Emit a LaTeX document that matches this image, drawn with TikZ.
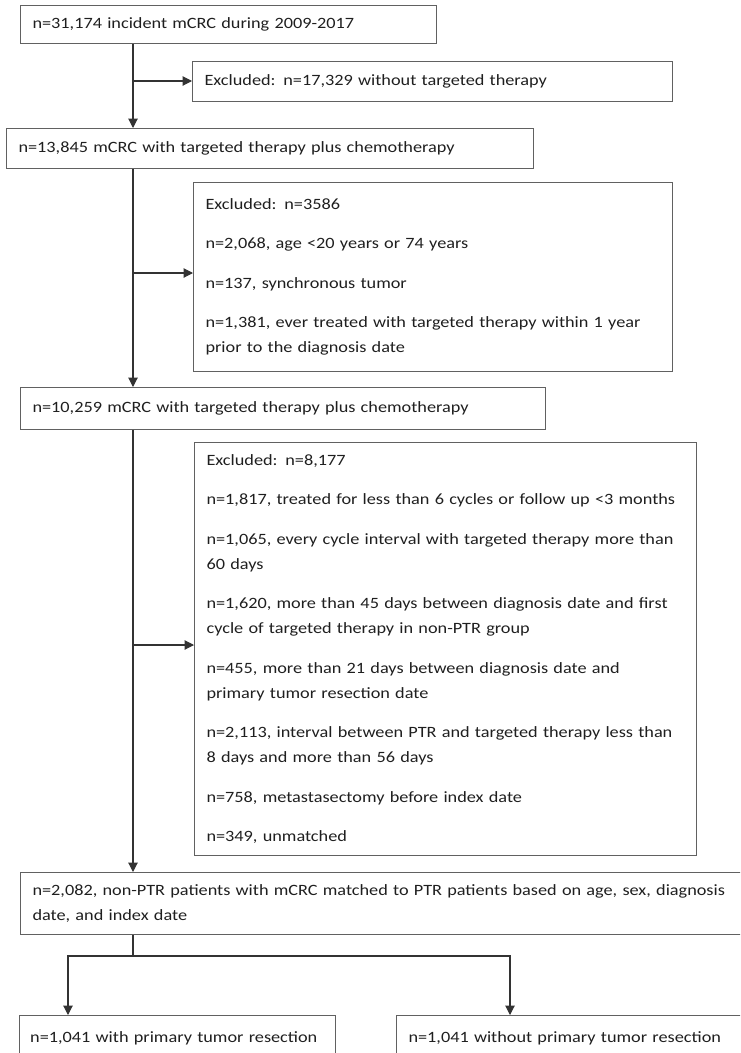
\documentclass[tikz,border=0pt]{standalone}
\usepackage{fontspec}
\setmainfont{Carlito}[FakeStretch=1.16]
\usetikzlibrary{arrows.meta}

\tikzset{
  box/.style={rectangle, draw=black!62, line width=0.8pt, anchor=north west,
    inner xsep=9pt, inner ysep=0pt, align=left, text=black!88,
    font=\fontsize{11.8pt}{18.75pt}\selectfont,
    execute at begin node={\hyphenpenalty=10000\exhyphenpenalty=10000}},
  arr/.style={draw=black!80, line width=0.8pt, -{Triangle[length=7pt,width=7pt]}},
  line/.style={draw=black!80, line width=0.8pt}
}
\newcommand{\gap}{\\[10.9pt]}

\begin{document}
\begin{tikzpicture}[x=0.75pt, y=-0.75pt]
  \useasboundingbox (0,0) rectangle (740,1053);
  \clip (0,0) rectangle (740,1053);

  %% main column
  \coordinate (Spine) at (133,0);
  \node (Incident) [box, text width=294pt, minimum height=28.5pt] at (20,5)
    {n=31,174 incident mCRC during 2009-2017};
  \node (Targeted) [box, text width=377.25pt, minimum height=30pt] at (6,128)
    {n=13,845 mCRC with targeted therapy plus chemotherapy};
  \node (Eligible) [box, text width=375.75pt, minimum height=31.5pt] at (20,387)
    {n=10,259 mCRC with targeted therapy plus chemotherapy};
  \node (Matched) [box, text width=537pt, minimum height=46.5pt] at (20,872)
    {n=2,082, non-PTR patients with mCRC matched to PTR patients based on age, sex, diagnosis\\
     date, and index date};
  \node (With) [box, inner xsep=8pt, text width=221pt, minimum height=34.5pt] at (19,1015)
    {n=1,041 with primary tumor resection};
  \node (Without) [box, text width=255pt, minimum height=34.5pt] at (396,1015)
    {n=1,041 without primary tumor resection};

  %% exclusion boxes
  \node (Excl1) [box, text width=342pt, minimum height=30pt] at (192,61)
    {Excluded: n=17,329 without targeted therapy};
  \node (Excl2) [box, text width=341.25pt, minimum height=141.75pt] at (193,182)
    {Excluded: n=3586\gap
     n=2,068, age <20 years or 74 years\gap
     n=137, synchronous tumor\gap
     n=1,381, ever treated with targeted therapy within 1 year\\
     prior to the diagnosis date};
  \node (Excl3) [box, text width=358.5pt, minimum height=309.75pt] at (194,442)
    {Excluded: n=8,177\gap
     n=1,817, treated for less than 6 cycles or follow up <3 months\gap
     n=1,065, every cycle interval with targeted therapy more than\\
     60 days\gap
     n=1,620, more than 45 days between diagnosis date and first\\
     cycle of targeted therapy in non-PTR group\gap
     n=455, more than 21 days between diagnosis date and\\
     primary tumor resection date\gap
     n=2,113, interval between PTR and targeted therapy less than\\
     8 days and more than 56 days\gap
     n=758, metastasectomy before index date\gap
     n=349, unmatched};

  %% connectors
  \coordinate (J1) at (133,81);
  \coordinate (J2) at (133,273);
  \coordinate (J3) at (133,645);
  \coordinate (ForkL) at (68,956);
  \coordinate (ForkR) at (510,956);

  \draw[arr] (Incident.south -| Spine) -- (Targeted.north -| Spine);
  \draw[arr] (Targeted.south -| Spine) -- (Eligible.north -| Spine);
  \draw[arr] (Eligible.south -| Spine) -- (Matched.north -| Spine);
  \draw[arr] (J1) -- (J1 -| Excl1.west);
  \draw[arr] (J2) -- (J2 -| Excl2.west);
  \draw[arr] (J3) -- (J3 -| Excl3.west);

  \draw[line] (Matched.south -| Spine) -- (Spine |- ForkL);
  \draw[arr] (Spine |- ForkL) -- (ForkL) -- (ForkL |- With.north);
  \draw[arr] (Spine |- ForkL) -- (ForkR) -- (ForkR |- Without.north);

\end{tikzpicture}
\end{document}
